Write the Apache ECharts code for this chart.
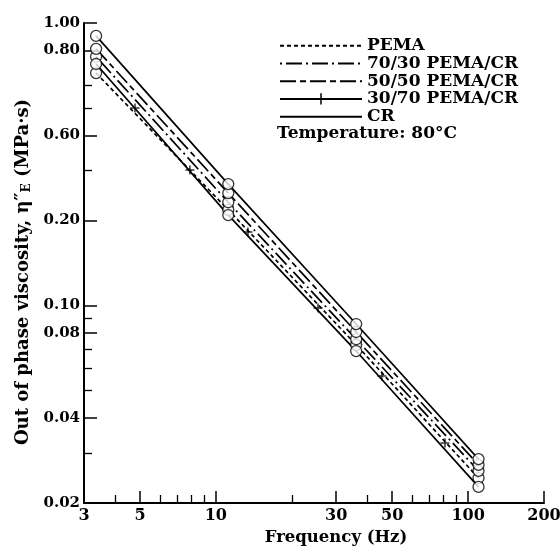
<!DOCTYPE html>
<html>
<head>
<meta charset="utf-8">
<script src="https://cdn.jsdelivr.net/npm/echarts@6/dist/echarts.min.js"></script>
<style>
  html, body { margin: 0; padding: 0; background: #fff; }
  #chart { width: 560px; height: 556px; }
</style>
</head>
<body>
<div id="chart"></div>
<script>
// measured frequencies (Hz)
const freqs = [3.35, 11.2, 36, 110];
const seriesNames = ['PEMA', '70/30 PEMA/CR', '50/50 PEMA/CR', '30/70 PEMA/CR', 'CR'];
// out of phase viscosity (MPa·s) at each frequency
const pema = [0.665, 0.218, 0.0726, 0.0245];
const pc7030 = [0.76, 0.232, 0.076, 0.026];
const pc5050 = [0.81, 0.250, 0.0806, 0.0273];
const pc3070 = [0.716, 0.209, 0.069, 0.0228];
const cr = [0.90, 0.269, 0.086, 0.0286];
// the "+" marks along the 30/70 line
const plusFreq = [4.78, 7.89, 13.4, 25.4, 45.5, 81];
const plusVisc = [0.50, 0.302, 0.182, 0.098, 0.0563, 0.0326];

// axis ticks
const xTicks = [3, 5, 10, 30, 50, 100, 200];
const xMinorTicks = [4, 6, 7, 8, 9, 20, 40, 60, 70, 80, 90];
const yTicks = [0.02, 0.04, 0.08, 0.10, 0.20, 0.40, 0.80, 1.00];
const yTickLabels = ['0.02', '0.04', '0.08', '0.10', '0.20', '0.60', '0.80', '1.00'];
const yMinorTicks = [0.03, 0.05, 0.06, 0.07, 0.09, 0.3, 0.5, 0.6];

const visc = [pema, pc7030, pc5050, pc3070, cr];
const dashTypes = [[4, 3], [2, 4, 16, 4], [16, 4, 6, 4], 'solid', 'solid'];
const plusPath = 'path://M0,5L10,5M5,0L5,10';
const font = { fontFamily: 'DejaVu Serif', fontWeight: 'bold', color: '#000' };

const chart = echarts.init(document.getElementById('chart'));

const gridPos = { left: 84, right: 16, top: 23, bottom: 53, containLabel: false, outerBoundsMode: 'none' };

const lineSeries = seriesNames.map((name, i) => ({
  name: name,
  type: 'line',
  xAxisIndex: 0,
  yAxisIndex: 0,
  data: freqs.map((f, j) => [f, visc[i][j]]),
  symbol: i === 3 ? plusPath : 'none',
  showSymbol: false,
  lineStyle: { color: '#000', width: 1.7, type: dashTypes[i] },
  itemStyle: { color: '#000', borderColor: '#000', borderWidth: 1.5 },
  z: 2
}));

const option = {
  animation: false,
  backgroundColor: '#fff',
  title: {
    text: 'Temperature: 80°C',
    left: 277,
    top: 125,
    padding: 0,
    textStyle: Object.assign({ fontSize: 17 }, font)
  },
  legend: {
    orient: 'vertical',
    left: 279,
    top: 37,
    padding: 0,
    itemWidth: 82,
    itemHeight: 14,
    itemGap: 0,
    selectedMode: false,
    textStyle: Object.assign({ fontSize: 17, lineHeight: 17.7 }, font),
    itemStyle: { opacity: 0 },
    data: seriesNames.map(n => n === '30/70 PEMA/CR'
      ? { name: n, itemStyle: { opacity: 1, color: '#000', borderColor: '#000', borderWidth: 1.5 } }
      : n)
  },
  grid: [gridPos, Object.assign({}, gridPos)],
  xAxis: [
    {
      type: 'log', gridIndex: 0, min: 3, max: 200, logBase: 10,
      name: 'Frequency (Hz)', nameLocation: 'middle', nameGap: 26,
      nameTextStyle: Object.assign({ fontSize: 16.5, padding: [0, 0, 0, 44] }, font),
      axisLine: { lineStyle: { color: '#000', width: 2 } },
      axisTick: { inside: true, length: 12, customValues: xTicks, lineStyle: { color: '#000', width: 1.5 } },
      axisLabel: Object.assign({ fontSize: 16, margin: 5, customValues: xTicks, formatter: v => String(Math.round(v)) }, font),
      splitLine: { show: false }
    },
    {
      type: 'log', gridIndex: 1, min: 3, max: 200, logBase: 10,
      axisLine: { show: false },
      axisTick: { inside: true, length: 8, customValues: xMinorTicks, lineStyle: { color: '#000', width: 1.3 } },
      axisLabel: { show: false },
      splitLine: { show: false }
    }
  ],
  yAxis: [
    {
      type: 'log', gridIndex: 0, min: 0.02, max: 1, logBase: 10,
      name: 'Out of phase viscosity, η″{sub|E} (MPa·s)', nameLocation: 'middle', nameGap: 49,
      nameTextStyle: Object.assign({
        fontSize: 18, padding: [0, 18, 0, 0],
        rich: { sub: { fontFamily: 'DejaVu Serif', fontWeight: 'bold', fontSize: 12, verticalAlign: 'bottom', padding: [7, 0, 0, 0] } }
      }, font),
      axisLine: { lineStyle: { color: '#000', width: 2 } },
      axisTick: { inside: true, length: 13, customValues: yTicks, lineStyle: { color: '#000', width: 1.5 } },
      axisLabel: Object.assign({
        fontSize: 15, margin: 4, customValues: yTicks,
        formatter: v => {
          const i = yTicks.findIndex(t => Math.abs(t - v) < 1e-6);
          return i >= 0 ? yTickLabels[i] : '';
        }
      }, font),
      splitLine: { show: false }
    },
    {
      type: 'log', gridIndex: 1, min: 0.02, max: 1, logBase: 10,
      axisLine: { show: false },
      axisTick: { inside: true, length: 8, customValues: yMinorTicks, lineStyle: { color: '#000', width: 1.3 } },
      axisLabel: { show: false },
      splitLine: { show: false }
    }
  ],
  series: lineSeries.concat([
    {
      name: 'points',
      type: 'scatter',
      xAxisIndex: 0,
      yAxisIndex: 0,
      data: visc.flatMap(v => freqs.map((f, j) => [f, v[j]])),
      symbol: 'circle',
      symbolSize: 11,
      itemStyle: { color: '#fff', borderColor: '#000', borderWidth: 1.3 },
      z: 3
    },
    {
      name: 'plus marks',
      type: 'scatter',
      xAxisIndex: 0,
      yAxisIndex: 0,
      data: plusFreq.map((f, j) => [f, plusVisc[j]]),
      symbol: plusPath,
      symbolSize: 9,
      itemStyle: { color: '#000', borderColor: '#000', borderWidth: 1.5 },
      z: 3
    }
  ])
};

chart.setOption(option);
</script>
</body>
</html>
